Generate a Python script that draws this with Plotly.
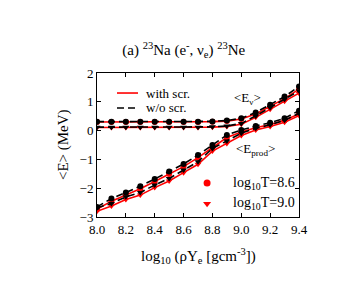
import plotly.graph_objects as go

x = [8.0, 8.1, 8.2, 8.3, 8.4, 8.5, 8.6, 8.7, 8.8, 8.9, 9.0, 9.1, 9.2, 9.3, 9.4]

# w/o screening
enu_t86_noscr = [0.12, 0.12, 0.12, 0.12, 0.12, 0.12, 0.12, 0.12, 0.13, 0.16, 0.25, 0.51, 0.80, 1.09, 1.38]
enu_t90_noscr = [0.31, 0.31, 0.31, 0.31, 0.31, 0.31, 0.31, 0.31, 0.32, 0.35, 0.43, 0.63, 0.90, 1.18, 1.53]
eprod_t86_noscr = [-2.65, -2.36, -2.15, -1.93, -1.68, -1.42, -1.16, -0.85, -0.50, -0.15, 0.02, 0.16, 0.27, 0.43, 0.69]
eprod_t90_noscr = [-2.68, -2.53, -2.30, -2.15, -1.89, -1.66, -1.37, -1.08, -0.62, -0.36, -0.09, 0.08, 0.20, 0.36, 0.60]

# with screening
enu_t86_scr = [0.11, 0.11, 0.11, 0.11, 0.11, 0.11, 0.11, 0.11, 0.12, 0.14, 0.22, 0.46, 0.74, 1.02, 1.30]
enu_t90_scr = [0.30, 0.30, 0.30, 0.30, 0.30, 0.30, 0.30, 0.30, 0.31, 0.33, 0.40, 0.58, 0.84, 1.11, 1.44]
eprod_t86_scr = [-2.73, -2.45, -2.24, -2.02, -1.77, -1.51, -1.25, -0.94, -0.59, -0.24, -0.05, 0.10, 0.21, 0.36, 0.58]
eprod_t90_scr = [-2.80, -2.62, -2.39, -2.24, -1.98, -1.75, -1.46, -1.17, -0.71, -0.45, -0.17, 0.02, 0.14, 0.29, 0.52]

x_ticks = [8.0, 8.2, 8.4, 8.6, 8.8, 9.0, 9.2, 9.4]
x_tick_text = ["8.0", "8.2", "8.4", "8.6", "8.8", "9.0", "9.2", "9.4"]
y_ticks = [-3, -2, -1, 0, 1, 2]

FONT = "Liberation Serif"
RED = "#ff0000"
DASH = "7px,4px"

fig = go.Figure()

def add(y, color, dash, symbol, width=1.6):
    fig.add_trace(go.Scatter(
        x=x, y=y, mode="lines+markers",
        line=dict(color=color, width=width, dash=dash),
        marker=dict(symbol=symbol, size=6, color=color),
        showlegend=False, hoverinfo="skip"))

for y, s in [(enu_t86_scr, "triangle-down"), (enu_t90_scr, "circle"),
             (eprod_t86_scr, "circle"), (eprod_t90_scr, "triangle-down")]:
    add(y, RED, "solid", s)
for y, s in [(enu_t86_noscr, "triangle-down"), (enu_t90_noscr, "circle"),
             (eprod_t86_noscr, "circle"), (eprod_t90_noscr, "triangle-down")]:
    add(y, "black", DASH, s)

# legend keys on a hidden overlay axis (fractions of the plot area)
key_line_x = [0.099, 0.203]
key_scr_y = 0.861
key_noscr_y = 0.757
key_mark_x = [0.545]
key_t86_y = [0.236]
key_t90_y = [0.092]

fig.add_trace(go.Scatter(x=key_line_x, y=[key_scr_y] * 2, mode="lines",
                         line=dict(color=RED, width=1.6), xaxis="x2", yaxis="y2",
                         showlegend=False, hoverinfo="skip"))
fig.add_trace(go.Scatter(x=key_line_x, y=[key_noscr_y] * 2, mode="lines",
                         line=dict(color="black", width=1.6, dash=DASH), xaxis="x2", yaxis="y2",
                         showlegend=False, hoverinfo="skip"))
fig.add_trace(go.Scatter(x=key_mark_x, y=key_t86_y, mode="markers",
                         marker=dict(symbol="circle", size=7, color=RED), xaxis="x2", yaxis="y2",
                         showlegend=False, hoverinfo="skip"))
fig.add_trace(go.Scatter(x=key_mark_x, y=key_t90_y, mode="markers",
                         marker=dict(symbol="triangle-down", size=7, color=RED), xaxis="x2", yaxis="y2",
                         showlegend=False, hoverinfo="skip"))

axis_common = dict(showline=True, linecolor="black", linewidth=1, mirror="ticks",
                   ticks="inside", ticklen=4, tickcolor="black", showgrid=False,
                   zeroline=False, tickfont=dict(family=FONT, size=13, color="black"))

def txt(x, y, text, size, xref="paper", yref="paper", xanchor="center", angle=0):
    return dict(x=x, y=y, xref=xref, yref=yref, text=text, showarrow=False,
                xanchor=xanchor, yanchor="middle", textangle=angle,
                font=dict(family=FONT, size=size, color="black"))

fig.update_layout(
    width=338, height=306,
    margin=dict(l=89, r=47, t=65, b=97),
    paper_bgcolor="white", plot_bgcolor="white",
    font=dict(family=FONT, color="black"),
    showlegend=False,
    title=dict(text="(a) <sup>23</sup>Na (e<sup>-</sup>, ν<sub>e</sub>) <sup>23</sup>Ne",
               x=0.52, xanchor="center", y=0.863, yanchor="middle",
               font=dict(family=FONT, size=15, color="black")),
    xaxis=dict(range=[8.0, 9.4], tickvals=x_ticks, ticktext=x_tick_text, **axis_common),
    yaxis=dict(range=[-3, 2], tickvals=y_ticks, **axis_common),
    xaxis2=dict(range=[0, 1], overlaying="x", visible=False),
    yaxis2=dict(range=[0, 1], overlaying="y", visible=False),
    annotations=[
        txt(0.5, -0.271, "log<sub>10</sub> (ρY<sub>e</sub> [gcm<sup>-3</sup>])", 15),
        txt(-0.168, 0.5, "&lt;E&gt; (MeV)", 15, angle=-90),
        txt(0.233, key_scr_y, "with scr.", 13, xanchor="left"),
        txt(0.233, key_noscr_y, "w/o scr.", 13, xanchor="left"),
        txt(0.663, key_t86_y[0], "log<sub>10</sub>T=8.6", 14, xanchor="left"),
        txt(0.663, key_t90_y[0], "log<sub>10</sub>T=9.0", 14, xanchor="left"),
        txt(9.04, 1.1, "&lt;E<sub>ν</sub>&gt;", 13, xref="x", yref="y"),
        txt(9.1, -0.66, "&lt;E<sub>prod</sub>&gt;", 13, xref="x", yref="y"),
    ],
)

fig.write_html("out.html")
